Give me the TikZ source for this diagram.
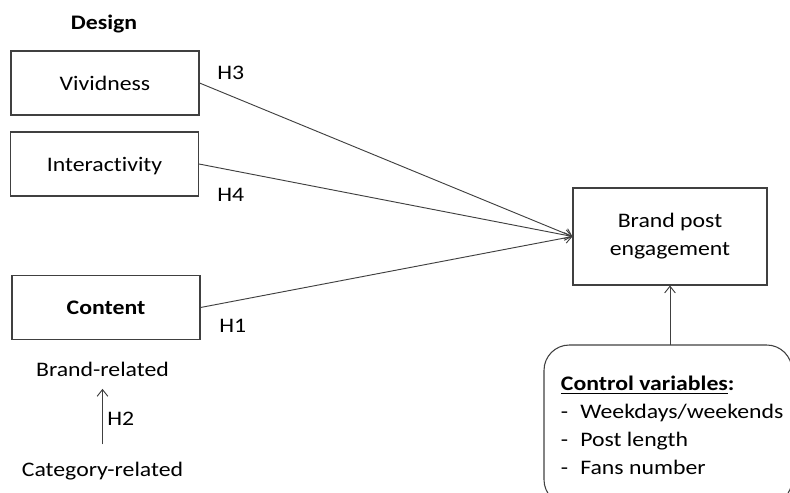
\documentclass[tikz,border=0pt]{standalone}
\usepackage{fontspec}
\setmainfont{Carlito}[FakeStretch=1.15, Ligatures=NoCommon]
\usetikzlibrary{positioning,arrows.meta}
\colorlet{lncol}{black!75}

\begin{document}
\begin{tikzpicture}[x=0.75pt, y=-0.75pt,
    every node/.style={font=\fontsize{15.5}{21}\selectfont, text=black},
    frame/.style={draw=lncol, line width=0.8pt},
    box/.style={frame, minimum width=141pt, minimum height=48pt, text height=10.5pt, text depth=0pt},
    hyp/.style={anchor=base west, inner sep=0pt},
    link/.style={-{Straight Barb[length=5pt,width=8pt]}, color=lncol, line width=0.7pt}]
    \useasboundingbox (0,0) rectangle (790,493);
    \clip (0,0) rectangle (790,493);

    \node[anchor=base] (design) at (104,29.3) {\textbf{Design}};
    \node[box] (viv) at (105,83) {Vividness};
    \node[box] (inter) at (104.5,164) {Interactivity};
    \node[box] (cont) at (106,307.5) {\textbf{Content}};
    \node[frame, minimum width=145.5pt, minimum height=72.75pt, align=center] (bpe) at (670,236.5) {Brand post\\engagement};

    \node[anchor=base] (brand) at (102.5,376) {Brand-related};
    \node[anchor=base] (categ) at (102.5,476.7) {Category-related};

    \node[hyp] (h3) at (217,79) {H3};
    \node[hyp] (h4) at (217,201.7) {H4};
    \node[hyp] (h1) at (219,332.7) {H1};

    \draw[frame, rounded corners=19pt] (544,345) rectangle (792,505);
    \coordinate (ctltop) at (670,345);
    \node[anchor=north west, align=left, inner sep=0pt] (ctl) at (560.7,376) {%
        \underline{\textbf{Control variables}}\textbf{:}\\
        \makebox[14.5pt][l]{-}Weekdays/weekends\\
        \makebox[14.5pt][l]{-}Post length\\
        \makebox[14.5pt][l]{-}Fans number};

    \path[link]
    (viv.east) edge (bpe.west)
    (inter.east) edge (bpe.west)
    (cont.east) edge (bpe.west)
    (ctltop) edge (bpe.south)
    (categ.north) edge[shorten <=10pt, shorten >=6pt] node[right] {H2} (brand.south);
\end{tikzpicture}
\end{document}
